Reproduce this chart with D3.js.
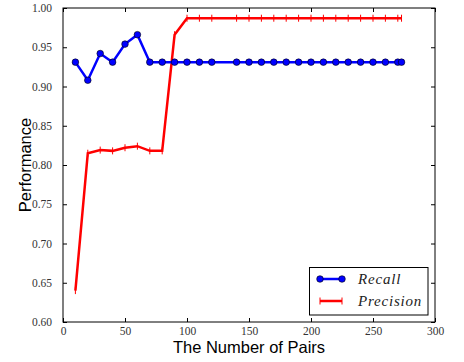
<!DOCTYPE html>
<html>
<head>
<meta charset="utf-8">
<script src="https://cdn.jsdelivr.net/npm/d3@7"></script>
<style>
  body { margin: 0; background: #fff; }
  svg { display: block; }
  .serif { font-family: "Liberation Serif", "DejaVu Serif", serif; }
  .sans { font-family: "Liberation Sans", Arial, sans-serif; }
</style>
</head>
<body>
<div id="chart"></div>
<script>
// pairs on the x axis (130 is not sampled)
const pairs = [10, 20, 30, 40, 50, 60, 70, 80, 90, 100, 110, 120,
    140, 150, 160, 170, 180, 190, 200, 210, 220, 230, 240, 250, 260, 270, 273];

const recall = [0.931, 0.908, 0.942, 0.931, 0.954, 0.966, 0.931, 0.931, 0.931, 0.931, 0.931, 0.931,
    0.931, 0.931, 0.931, 0.931, 0.931, 0.931, 0.931, 0.931, 0.931, 0.931, 0.931, 0.931, 0.931, 0.931, 0.931];

const precision = [0.640, 0.815, 0.819, 0.818, 0.822, 0.824, 0.818, 0.818, 0.966, 0.987, 0.987, 0.987,
    0.987, 0.987, 0.987, 0.987, 0.987, 0.987, 0.987, 0.987, 0.987, 0.987, 0.987, 0.987, 0.987, 0.987, 0.987];

const xTicks = [0, 50, 100, 150, 200, 250, 300];
const yTicks = [0.60, 0.65, 0.70, 0.75, 0.80, 0.85, 0.90, 0.95, 1.00];

const margin = { top: 8, right: 29, bottom: 40, left: 63 };
const width = 464 - margin.left - margin.right;
const height = 362 - margin.top - margin.bottom;

const svg = d3.select("#chart")
    .append("svg")
    .attr("width", 464)
    .attr("height", 362);

const g = svg.append("g")
    .attr("transform", `translate(${margin.left},${margin.top})`);

const x = d3.scaleLinear().domain([0, 300]).range([0, width]);
const y = d3.scaleLinear().domain([0.6, 1.0]).range([height, 0]);

// axes with inward ticks on all four sides
const bottomAxis = g.append("g")
    .attr("transform", `translate(0,${height})`)
    .call(d3.axisBottom(x).tickValues(xTicks).tickSizeInner(-4).tickSizeOuter(0).tickPadding(5));
const leftAxis = g.append("g")
    .call(d3.axisLeft(y).tickValues(yTicks).tickFormat(d3.format(".2f")).tickSizeInner(-4).tickSizeOuter(0).tickPadding(11));
const topAxis = g.append("g")
    .call(d3.axisTop(x).tickValues(xTicks).tickSizeInner(-4).tickSizeOuter(0).tickFormat(""));
const rightAxis = g.append("g")
    .attr("transform", `translate(${width},0)`)
    .call(d3.axisRight(y).tickValues(yTicks).tickSizeInner(-4).tickSizeOuter(0).tickFormat(""));

[bottomAxis, leftAxis, topAxis, rightAxis].forEach(a => {
    a.attr("font-family", null).attr("font-size", null);
    a.select(".domain").remove();
    a.selectAll(".tick line").attr("stroke", "#000");
    a.selectAll("text")
        .attr("class", "serif")
        .attr("font-size", 11.5)
        .attr("fill", "#333");
});

// precision line with | markers
g.append("path")
    .datum(pairs.map((p, i) => [p, precision[i]]))
    .attr("fill", "none")
    .attr("stroke", "#ff0000")
    .attr("stroke-width", 2.5)
    .attr("d", d3.line().x(d => x(d[0])).y(d => y(d[1])));

g.selectAll("line.pmark")
    .data(pairs.map((p, i) => [p, precision[i]]))
    .join("line")
    .attr("class", "pmark")
    .attr("x1", d => x(d[0]))
    .attr("x2", d => x(d[0]))
    .attr("y1", d => y(d[1]) - 3.5)
    .attr("y2", d => y(d[1]) + 3.5)
    .attr("stroke", "#ff0000")
    .attr("stroke-width", 1);

// recall line with circles
g.append("path")
    .datum(pairs.map((p, i) => [p, recall[i]]))
    .attr("fill", "none")
    .attr("stroke", "#0000ff")
    .attr("stroke-width", 2.5)
    .attr("d", d3.line().x(d => x(d[0])).y(d => y(d[1])));

g.selectAll("circle.rmark")
    .data(pairs.map((p, i) => [p, recall[i]]))
    .join("circle")
    .attr("class", "rmark")
    .attr("cx", d => x(d[0]))
    .attr("cy", d => y(d[1]))
    .attr("r", 3.3)
    .attr("fill", "#0000ff")
    .attr("stroke", "#000")
    .attr("stroke-width", 0.6);

// frame
g.append("rect")
    .attr("width", width)
    .attr("height", height)
    .attr("fill", "none")
    .attr("stroke", "#000")
    .attr("stroke-width", 1);

// axis titles
svg.append("text")
    .attr("class", "sans")
    .attr("x", margin.left + width / 2)
    .attr("y", 353)
    .attr("text-anchor", "middle")
    .attr("font-size", 16.5)
    .text("The Number of Pairs");

svg.append("text")
    .attr("class", "sans")
    .attr("transform", `translate(31,${margin.top + height / 2}) rotate(-90)`)
    .attr("text-anchor", "middle")
    .attr("font-size", 16.5)
    .text("Performance");

// legend
const legend = svg.append("g");
legend.append("rect")
    .attr("x", 309.5)
    .attr("y", 267.5)
    .attr("width", 118.5)
    .attr("height", 47.5)
    .attr("fill", "#fff")
    .attr("stroke", "#000")
    .attr("stroke-width", 1);

const items = [
    { name: "Recall", color: "#0000ff", marker: "circle" },
    { name: "Precision", color: "#ff0000", marker: "bar" }
];

const row = legend.selectAll("g.item")
    .data(items)
    .join("g")
    .attr("class", "item")
    .attr("transform", (d, i) => `translate(0,${279 + i * 22})`);

row.append("line")
    .attr("x1", 320)
    .attr("x2", 342)
    .attr("stroke", d => d.color)
    .attr("stroke-width", 2.5);

row.each(function (d) {
    const r = d3.select(this);
    [320, 342].forEach(px => {
        if (d.marker === "circle") {
            r.append("circle")
                .attr("cx", px)
                .attr("r", 3.3)
                .attr("fill", d.color)
                .attr("stroke", "#000")
                .attr("stroke-width", 0.6);
        } else {
            r.append("line")
                .attr("x1", px).attr("x2", px)
                .attr("y1", -3.5).attr("y2", 3.5)
                .attr("stroke", d.color)
                .attr("stroke-width", 1);
        }
    });
});

row.append("text")
    .attr("class", "serif")
    .attr("x", 358)
    .attr("y", 4.5)
    .attr("font-style", "italic")
    .attr("font-size", 15)
    .attr("letter-spacing", 0.8)
    .attr("fill", "#222")
    .text(d => d.name);
</script>
</body>
</html>
